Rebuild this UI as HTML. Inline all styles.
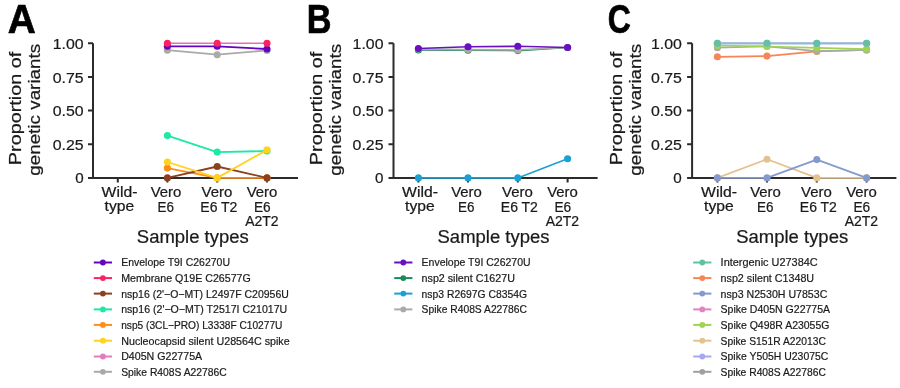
<!DOCTYPE html>
<html><head><meta charset="utf-8"><style>
html,body{margin:0;padding:0;background:#fff;width:900px;height:388px;overflow:hidden}
svg{display:block;will-change:transform}
text{font-family:"Liberation Sans",sans-serif;fill:#1a1a1a;stroke:#1a1a1a;stroke-width:0.22px}
.let{font-size:40px;font-weight:bold;fill:#000;stroke:#000;stroke-width:0.7px}
.yt{font-size:17px}
.tk{font-size:15.2px}
.xl{font-size:14px}
.xt{font-size:17.5px}
.le{font-size:10.5px;stroke-width:0.2px}
.ax{stroke:#2b2b2b;stroke-width:2;fill:none}
.ln{fill:none;stroke-linejoin:round}
.lg{stroke-width:2;fill:none}
</style></head><body>
<svg width="900" height="388" viewBox="0 0 900 388">
<text transform="translate(7.63,33.2) scale(0.969,1)" class="let">A</text>
<text transform="translate(21.1,108.45) rotate(-90)" class="yt" text-anchor="middle" textLength="113.4" lengthAdjust="spacingAndGlyphs">Proportion of</text>
<text transform="translate(40.2,109.80) rotate(-90)" class="yt" text-anchor="middle" textLength="132" lengthAdjust="spacingAndGlyphs">genetic variants</text>
<text x="83.6" y="48.8" class="tk" text-anchor="end" textLength="30.9" lengthAdjust="spacingAndGlyphs">1.00</text>
<text x="83.6" y="82.5" class="tk" text-anchor="end" textLength="30.9" lengthAdjust="spacingAndGlyphs">0.75</text>
<text x="83.6" y="116.1" class="tk" text-anchor="end" textLength="30.9" lengthAdjust="spacingAndGlyphs">0.50</text>
<text x="83.6" y="149.8" class="tk" text-anchor="end" textLength="30.9" lengthAdjust="spacingAndGlyphs">0.25</text>
<text x="83.6" y="183.4" class="tk" text-anchor="end">0</text>
<path d="M88.0 177.9H298.0M93.0 177.9V43.3" class="ax"/>
<path d="M88.0 43.3H93.0M88.0 77.0H93.0M88.0 110.6H93.0M88.0 144.2H93.0M117.8 177.9V182.5M167.4 177.9V182.5M217.2 177.9V182.5M267.0 177.9V182.5" class="ax"/>
<text x="119.50" y="196.8" class="xl" text-anchor="middle" textLength="35.8" lengthAdjust="spacingAndGlyphs">Wild-</text>
<text x="119.40" y="211.4" class="xl" text-anchor="middle" textLength="29.6" lengthAdjust="spacingAndGlyphs">type</text>
<text x="166.05" y="196.6" class="xl" text-anchor="middle" textLength="30.7" lengthAdjust="spacingAndGlyphs">Vero</text>
<text x="165.80" y="211.6" class="xl" text-anchor="middle" textLength="16.4" lengthAdjust="spacingAndGlyphs">E6</text>
<text x="217.00" y="196.6" class="xl" text-anchor="middle" textLength="30.8" lengthAdjust="spacingAndGlyphs">Vero</text>
<text x="218.85" y="211.6" class="xl" text-anchor="middle" textLength="37.1" lengthAdjust="spacingAndGlyphs">E6 T2</text>
<text x="262.00" y="196.6" class="xl" text-anchor="middle" textLength="30.7" lengthAdjust="spacingAndGlyphs">Vero</text>
<text x="262.30" y="211.6" class="xl" text-anchor="middle" textLength="16.7" lengthAdjust="spacingAndGlyphs">E6</text>
<text x="261.85" y="226.2" class="xl" text-anchor="middle" textLength="33.4" lengthAdjust="spacingAndGlyphs">A2T2</text>
<text x="192.8" y="242.6" class="xt" text-anchor="middle" textLength="111.9" lengthAdjust="spacingAndGlyphs">Sample types</text>
<path d="M167.4 50.2 L217.2 54.7 L267.0 50.4" stroke="#aaaaaa" stroke-width="1.8" class="ln"/>
<circle cx="167.4" cy="50.2" r="3.55" fill="#aaaaaa"/>
<circle cx="217.2" cy="54.7" r="3.55" fill="#aaaaaa"/>
<circle cx="267.0" cy="50.4" r="3.55" fill="#aaaaaa"/>
<path d="M167.4 46.3 L217.2 46.3 L267.0 49.0" stroke="#6404c0" stroke-width="1.8" class="ln"/>
<circle cx="167.4" cy="46.3" r="3.55" fill="#6404c0"/>
<circle cx="217.2" cy="46.3" r="3.55" fill="#6404c0"/>
<circle cx="267.0" cy="49.0" r="3.55" fill="#6404c0"/>
<path d="M167.4 43.3 L217.2 43.3 L267.0 43.3" stroke="#e070b8" stroke-width="1.5" class="ln"/>
<circle cx="167.4" cy="43.3" r="3.55" fill="#fa2260"/>
<circle cx="217.2" cy="43.3" r="3.55" fill="#fa2260"/>
<circle cx="267.0" cy="43.3" r="3.55" fill="#fa2260"/>
<path d="M167.4 168.1 L217.2 177.9 L267.0 177.9" stroke="#ff8c14" stroke-width="1.8" class="ln"/>
<circle cx="167.4" cy="168.1" r="3.55" fill="#ff8c14"/>
<circle cx="217.2" cy="177.9" r="3.55" fill="#ff8c14"/>
<circle cx="267.0" cy="177.9" r="3.55" fill="#ff8c14"/>
<path d="M167.4 177.9 L217.2 166.5 L267.0 177.9" stroke="#8b4020" stroke-width="1.8" class="ln"/>
<circle cx="167.4" cy="177.9" r="3.55" fill="#8b4020"/>
<circle cx="217.2" cy="166.5" r="3.55" fill="#8b4020"/>
<circle cx="267.0" cy="177.9" r="3.55" fill="#8b4020"/>
<path d="M167.4 135.6 L217.2 152.1 L267.0 151.0" stroke="#1de9a2" stroke-width="1.8" class="ln"/>
<circle cx="167.4" cy="135.6" r="3.55" fill="#1de9a2"/>
<circle cx="217.2" cy="152.1" r="3.55" fill="#1de9a2"/>
<circle cx="267.0" cy="151.0" r="3.55" fill="#1de9a2"/>
<path d="M167.4 162.0 L217.2 177.9 L267.0 149.9" stroke="#ffd21f" stroke-width="1.8" class="ln"/>
<circle cx="167.4" cy="162.0" r="3.55" fill="#ffd21f"/>
<circle cx="217.2" cy="177.9" r="3.55" fill="#ffd21f"/>
<circle cx="267.0" cy="149.9" r="3.55" fill="#ffd21f"/>
<path d="M93.8 262.5H112.0" stroke="#6404c0" class="lg"/>
<circle cx="102.9" cy="262.5" r="2.9" fill="#6404c0"/>
<text x="121.2" y="266.4" class="le" textLength="108.8" lengthAdjust="spacingAndGlyphs">Envelope T9I C26270U</text>
<path d="M93.8 278.1H112.0" stroke="#fa2260" class="lg"/>
<circle cx="102.9" cy="278.1" r="2.9" fill="#fa2260"/>
<text x="121.2" y="282.0" class="le" textLength="129.6" lengthAdjust="spacingAndGlyphs">Membrane Q19E C26577G</text>
<path d="M93.8 293.6H112.0" stroke="#8b4020" class="lg"/>
<circle cx="102.9" cy="293.6" r="2.9" fill="#8b4020"/>
<text x="121.2" y="297.5" class="le" textLength="167.6" lengthAdjust="spacingAndGlyphs">nsp16 (2'−O−MT) L2497F C20956U</text>
<path d="M93.8 309.4H112.0" stroke="#1de9a2" class="lg"/>
<circle cx="102.9" cy="309.4" r="2.9" fill="#1de9a2"/>
<text x="121.2" y="313.3" class="le" textLength="166.0" lengthAdjust="spacingAndGlyphs">nsp16 (2'−O−MT) T2517I C21017U</text>
<path d="M93.8 324.9H112.0" stroke="#ff8c14" class="lg"/>
<circle cx="102.9" cy="324.9" r="2.9" fill="#ff8c14"/>
<text x="121.2" y="328.8" class="le" textLength="161.2" lengthAdjust="spacingAndGlyphs">nsp5 (3CL−PRO) L3338F C10277U</text>
<path d="M93.8 340.7H112.0" stroke="#ffd21f" class="lg"/>
<circle cx="102.9" cy="340.7" r="2.9" fill="#ffd21f"/>
<text x="121.2" y="344.6" class="le" textLength="168.5" lengthAdjust="spacingAndGlyphs">Nucleocapsid silent U28564C spike</text>
<path d="M93.8 356.5H112.0" stroke="#e47cc0" class="lg"/>
<circle cx="102.9" cy="356.5" r="2.9" fill="#e47cc0"/>
<text x="121.2" y="360.4" class="le" textLength="81.0" lengthAdjust="spacingAndGlyphs">D405N G22775A</text>
<path d="M93.8 371.8H112.0" stroke="#aaaaaa" class="lg"/>
<circle cx="102.9" cy="371.8" r="2.9" fill="#aaaaaa"/>
<text x="121.2" y="375.7" class="le" textLength="105.6" lengthAdjust="spacingAndGlyphs">Spike R408S A22786C</text>
<text transform="translate(306.80,33.2) scale(0.857,1)" class="let">B</text>
<text transform="translate(322.1,108.45) rotate(-90)" class="yt" text-anchor="middle" textLength="113.4" lengthAdjust="spacingAndGlyphs">Proportion of</text>
<text transform="translate(341.2,109.80) rotate(-90)" class="yt" text-anchor="middle" textLength="132" lengthAdjust="spacingAndGlyphs">genetic variants</text>
<text x="383.5" y="48.8" class="tk" text-anchor="end" textLength="30.9" lengthAdjust="spacingAndGlyphs">1.00</text>
<text x="383.5" y="82.5" class="tk" text-anchor="end" textLength="30.9" lengthAdjust="spacingAndGlyphs">0.75</text>
<text x="383.5" y="116.1" class="tk" text-anchor="end" textLength="30.9" lengthAdjust="spacingAndGlyphs">0.50</text>
<text x="383.5" y="149.8" class="tk" text-anchor="end" textLength="30.9" lengthAdjust="spacingAndGlyphs">0.25</text>
<text x="383.5" y="183.4" class="tk" text-anchor="end">0</text>
<path d="M388.5 177.9H597.6M393.5 177.9V43.3" class="ax"/>
<path d="M388.5 43.3H393.5M388.5 77.0H393.5M388.5 110.6H393.5M388.5 144.2H393.5M418.4 177.9V182.5M468.0 177.9V182.5M517.8 177.9V182.5M567.6 177.9V182.5" class="ax"/>
<text x="420.00" y="196.8" class="xl" text-anchor="middle" textLength="35.8" lengthAdjust="spacingAndGlyphs">Wild-</text>
<text x="419.90" y="211.4" class="xl" text-anchor="middle" textLength="29.6" lengthAdjust="spacingAndGlyphs">type</text>
<text x="466.55" y="196.6" class="xl" text-anchor="middle" textLength="30.7" lengthAdjust="spacingAndGlyphs">Vero</text>
<text x="466.30" y="211.6" class="xl" text-anchor="middle" textLength="16.4" lengthAdjust="spacingAndGlyphs">E6</text>
<text x="517.50" y="196.6" class="xl" text-anchor="middle" textLength="30.8" lengthAdjust="spacingAndGlyphs">Vero</text>
<text x="519.35" y="211.6" class="xl" text-anchor="middle" textLength="37.1" lengthAdjust="spacingAndGlyphs">E6 T2</text>
<text x="562.50" y="196.6" class="xl" text-anchor="middle" textLength="30.7" lengthAdjust="spacingAndGlyphs">Vero</text>
<text x="562.80" y="211.6" class="xl" text-anchor="middle" textLength="16.7" lengthAdjust="spacingAndGlyphs">E6</text>
<text x="562.35" y="226.2" class="xl" text-anchor="middle" textLength="33.4" lengthAdjust="spacingAndGlyphs">A2T2</text>
<text x="493.5" y="242.6" class="xt" text-anchor="middle" textLength="111.9" lengthAdjust="spacingAndGlyphs">Sample types</text>
<path d="M418.4 49.9 L468.0 50.2 L517.8 50.6 L567.6 47.5" stroke="#1a8558" stroke-width="1.6" class="ln"/>
<circle cx="418.4" cy="49.9" r="3.55" fill="#1a8558"/>
<circle cx="468.0" cy="50.2" r="3.55" fill="#1a8558"/>
<circle cx="517.8" cy="50.6" r="3.55" fill="#1a8558"/>
<circle cx="567.6" cy="47.5" r="3.55" fill="#1a8558"/>
<path d="M418.4 49.1 L468.0 49.6 L517.8 49.9 L567.6 47.5" stroke="#aaaaaa" stroke-width="1.6" class="ln"/>
<circle cx="418.4" cy="49.1" r="3.55" fill="#aaaaaa"/>
<circle cx="468.0" cy="49.6" r="3.55" fill="#aaaaaa"/>
<circle cx="517.8" cy="49.9" r="3.55" fill="#aaaaaa"/>
<circle cx="567.6" cy="47.5" r="3.55" fill="#aaaaaa"/>
<path d="M418.4 48.5 L468.0 46.7 L517.8 46.3 L567.6 47.5" stroke="#6a10c0" stroke-width="1.6" class="ln"/>
<circle cx="418.4" cy="48.5" r="3.55" fill="#6a10c0"/>
<circle cx="468.0" cy="46.7" r="3.55" fill="#6a10c0"/>
<circle cx="517.8" cy="46.3" r="3.55" fill="#6a10c0"/>
<circle cx="567.6" cy="47.5" r="3.55" fill="#6a10c0"/>
<path d="M418.4 177.9 L468.0 177.9 L517.8 177.9 L567.6 158.7" stroke="#1aa0d2" stroke-width="1.6" class="ln"/>
<circle cx="418.4" cy="177.9" r="3.55" fill="#1aa0d2"/>
<circle cx="468.0" cy="177.9" r="3.55" fill="#1aa0d2"/>
<circle cx="517.8" cy="177.9" r="3.55" fill="#1aa0d2"/>
<circle cx="567.6" cy="158.7" r="3.55" fill="#1aa0d2"/>
<path d="M394.2 262.5H412.4" stroke="#6a10c0" class="lg"/>
<circle cx="403.3" cy="262.5" r="2.9" fill="#6a10c0"/>
<text x="421.6" y="266.4" class="le" textLength="109.0" lengthAdjust="spacingAndGlyphs">Envelope T9I C26270U</text>
<path d="M394.2 278.1H412.4" stroke="#1a8a5a" class="lg"/>
<circle cx="403.3" cy="278.1" r="2.9" fill="#1a8a5a"/>
<text x="421.6" y="282.0" class="le" textLength="93.3" lengthAdjust="spacingAndGlyphs">nsp2 silent C1627U</text>
<path d="M394.2 293.6H412.4" stroke="#1aa0d2" class="lg"/>
<circle cx="403.3" cy="293.6" r="2.9" fill="#1aa0d2"/>
<text x="421.6" y="297.5" class="le" textLength="105.4" lengthAdjust="spacingAndGlyphs">nsp3 R2697G C8354G</text>
<path d="M394.2 309.4H412.4" stroke="#aaaaaa" class="lg"/>
<circle cx="403.3" cy="309.4" r="2.9" fill="#aaaaaa"/>
<text x="421.6" y="313.3" class="le" textLength="105.4" lengthAdjust="spacingAndGlyphs">Spike R408S A22786C</text>
<text transform="translate(607.80,33.2) scale(0.799,1)" class="let">C</text>
<text transform="translate(622.0,108.45) rotate(-90)" class="yt" text-anchor="middle" textLength="113.4" lengthAdjust="spacingAndGlyphs">Proportion of</text>
<text transform="translate(641.1,109.80) rotate(-90)" class="yt" text-anchor="middle" textLength="132" lengthAdjust="spacingAndGlyphs">genetic variants</text>
<text x="681.8" y="48.8" class="tk" text-anchor="end" textLength="30.9" lengthAdjust="spacingAndGlyphs">1.00</text>
<text x="681.8" y="82.5" class="tk" text-anchor="end" textLength="30.9" lengthAdjust="spacingAndGlyphs">0.75</text>
<text x="681.8" y="116.1" class="tk" text-anchor="end" textLength="30.9" lengthAdjust="spacingAndGlyphs">0.50</text>
<text x="681.8" y="149.8" class="tk" text-anchor="end" textLength="30.9" lengthAdjust="spacingAndGlyphs">0.25</text>
<text x="681.8" y="183.4" class="tk" text-anchor="end">0</text>
<path d="M687.1 177.9H896.4M692.1 177.9V43.3" class="ax"/>
<path d="M687.1 43.3H692.1M687.1 77.0H692.1M687.1 110.6H692.1M687.1 144.2H692.1M717.4 177.9V182.5M767.0 177.9V182.5M816.8 177.9V182.5M866.6 177.9V182.5" class="ax"/>
<text x="719.00" y="196.8" class="xl" text-anchor="middle" textLength="35.8" lengthAdjust="spacingAndGlyphs">Wild-</text>
<text x="718.90" y="211.4" class="xl" text-anchor="middle" textLength="29.6" lengthAdjust="spacingAndGlyphs">type</text>
<text x="765.55" y="196.6" class="xl" text-anchor="middle" textLength="30.7" lengthAdjust="spacingAndGlyphs">Vero</text>
<text x="765.30" y="211.6" class="xl" text-anchor="middle" textLength="16.4" lengthAdjust="spacingAndGlyphs">E6</text>
<text x="816.50" y="196.6" class="xl" text-anchor="middle" textLength="30.8" lengthAdjust="spacingAndGlyphs">Vero</text>
<text x="818.35" y="211.6" class="xl" text-anchor="middle" textLength="37.1" lengthAdjust="spacingAndGlyphs">E6 T2</text>
<text x="861.50" y="196.6" class="xl" text-anchor="middle" textLength="30.7" lengthAdjust="spacingAndGlyphs">Vero</text>
<text x="861.80" y="211.6" class="xl" text-anchor="middle" textLength="16.7" lengthAdjust="spacingAndGlyphs">E6</text>
<text x="861.35" y="226.2" class="xl" text-anchor="middle" textLength="33.4" lengthAdjust="spacingAndGlyphs">A2T2</text>
<text x="792.2" y="242.6" class="xt" text-anchor="middle" textLength="111.9" lengthAdjust="spacingAndGlyphs">Sample types</text>
<path d="M717.4 56.8 L767.0 56.1 L816.8 51.4 L866.6 50.0" stroke="#f88558" stroke-width="1.7" class="ln"/>
<circle cx="717.4" cy="56.8" r="3.55" fill="#f88558"/>
<circle cx="767.0" cy="56.1" r="3.55" fill="#f88558"/>
<circle cx="816.8" cy="51.4" r="3.55" fill="#f88558"/>
<circle cx="866.6" cy="50.0" r="3.55" fill="#f88558"/>
<path d="M717.4 47.7 L767.0 46.3 L816.8 51.1 L866.6 50.0" stroke="#aaaaaa" stroke-width="1.7" class="ln"/>
<circle cx="717.4" cy="47.7" r="3.55" fill="#aaaaaa"/>
<circle cx="767.0" cy="46.3" r="3.55" fill="#aaaaaa"/>
<circle cx="816.8" cy="51.1" r="3.55" fill="#aaaaaa"/>
<circle cx="866.6" cy="50.0" r="3.55" fill="#aaaaaa"/>
<path d="M717.4 45.5 L767.0 46.5 L816.8 47.9 L866.6 49.1" stroke="#a0d44e" stroke-width="1.7" class="ln"/>
<circle cx="717.4" cy="45.5" r="3.55" fill="#a0d44e"/>
<circle cx="767.0" cy="46.5" r="3.55" fill="#a0d44e"/>
<circle cx="816.8" cy="47.9" r="3.55" fill="#a0d44e"/>
<circle cx="866.6" cy="49.1" r="3.55" fill="#a0d44e"/>
<path d="M717.4 43.3 L767.0 43.3 L816.8 43.3 L866.6 43.3" stroke="#62c1a2" stroke-width="1.7" class="ln"/>
<path d="M717.4 43.3 L767.0 43.3 L816.8 43.3 L866.6 43.3" stroke="#a8a8f2" stroke-width="1.7" class="ln"/>
<circle cx="717.4" cy="43.3" r="3.55" fill="#a8a8f2"/>
<circle cx="767.0" cy="43.3" r="3.55" fill="#a8a8f2"/>
<circle cx="816.8" cy="43.3" r="3.55" fill="#a8a8f2"/>
<circle cx="866.6" cy="43.3" r="3.55" fill="#a8a8f2"/>
<circle cx="717.4" cy="43.3" r="3.55" fill="#62c1a2"/>
<circle cx="767.0" cy="43.3" r="3.55" fill="#62c1a2"/>
<circle cx="816.8" cy="43.3" r="3.55" fill="#62c1a2"/>
<circle cx="866.6" cy="43.3" r="3.55" fill="#62c1a2"/>
<path d="M717.4 177.9 L767.0 159.2 L816.8 177.9 L866.6 177.9" stroke="#e4c290" stroke-width="1.7" class="ln"/>
<circle cx="717.4" cy="177.9" r="3.55" fill="#e4c290"/>
<circle cx="767.0" cy="159.2" r="3.55" fill="#e4c290"/>
<circle cx="816.8" cy="177.9" r="3.55" fill="#e4c290"/>
<circle cx="866.6" cy="177.9" r="3.55" fill="#e4c290"/>
<path d="M717.4 177.9 L767.0 177.9 L816.8 159.6 L866.6 177.9" stroke="#8499cc" stroke-width="1.7" class="ln"/>
<circle cx="717.4" cy="177.9" r="3.55" fill="#8499cc"/>
<circle cx="767.0" cy="177.9" r="3.55" fill="#8499cc"/>
<circle cx="816.8" cy="159.6" r="3.55" fill="#8499cc"/>
<circle cx="866.6" cy="177.9" r="3.55" fill="#8499cc"/>
<path d="M693.2 262.5H711.4" stroke="#62c1a2" class="lg"/>
<circle cx="702.3" cy="262.5" r="2.9" fill="#62c1a2"/>
<text x="720.6" y="266.4" class="le" textLength="97.1" lengthAdjust="spacingAndGlyphs">Intergenic U27384C</text>
<path d="M693.2 278.1H711.4" stroke="#f88558" class="lg"/>
<circle cx="702.3" cy="278.1" r="2.9" fill="#f88558"/>
<text x="720.6" y="282.0" class="le" textLength="93.5" lengthAdjust="spacingAndGlyphs">nsp2 silent C1348U</text>
<path d="M693.2 293.6H711.4" stroke="#8499cc" class="lg"/>
<circle cx="702.3" cy="293.6" r="2.9" fill="#8499cc"/>
<text x="720.6" y="297.5" class="le" textLength="106.7" lengthAdjust="spacingAndGlyphs">nsp3 N2530H U7853C</text>
<path d="M693.2 309.4H711.4" stroke="#e483c0" class="lg"/>
<circle cx="702.3" cy="309.4" r="2.9" fill="#e483c0"/>
<text x="720.6" y="313.3" class="le" textLength="109.5" lengthAdjust="spacingAndGlyphs">Spike D405N G22775A</text>
<path d="M693.2 324.9H711.4" stroke="#a0d44e" class="lg"/>
<circle cx="702.3" cy="324.9" r="2.9" fill="#a0d44e"/>
<text x="720.6" y="328.8" class="le" textLength="108.8" lengthAdjust="spacingAndGlyphs">Spike Q498R A23055G</text>
<path d="M693.2 340.7H711.4" stroke="#e4c290" class="lg"/>
<circle cx="702.3" cy="340.7" r="2.9" fill="#e4c290"/>
<text x="720.6" y="344.6" class="le" textLength="105.3" lengthAdjust="spacingAndGlyphs">Spike S151R A22013C</text>
<path d="M693.2 356.5H711.4" stroke="#a8a8f2" class="lg"/>
<circle cx="702.3" cy="356.5" r="2.9" fill="#a8a8f2"/>
<text x="720.6" y="360.4" class="le" textLength="107.8" lengthAdjust="spacingAndGlyphs">Spike Y505H U23075C</text>
<path d="M693.2 371.8H711.4" stroke="#a0a0a0" class="lg"/>
<circle cx="702.3" cy="371.8" r="2.9" fill="#a0a0a0"/>
<text x="720.6" y="375.7" class="le" textLength="105.3" lengthAdjust="spacingAndGlyphs">Spike R408S A22786C</text>
</svg>
</body></html>
